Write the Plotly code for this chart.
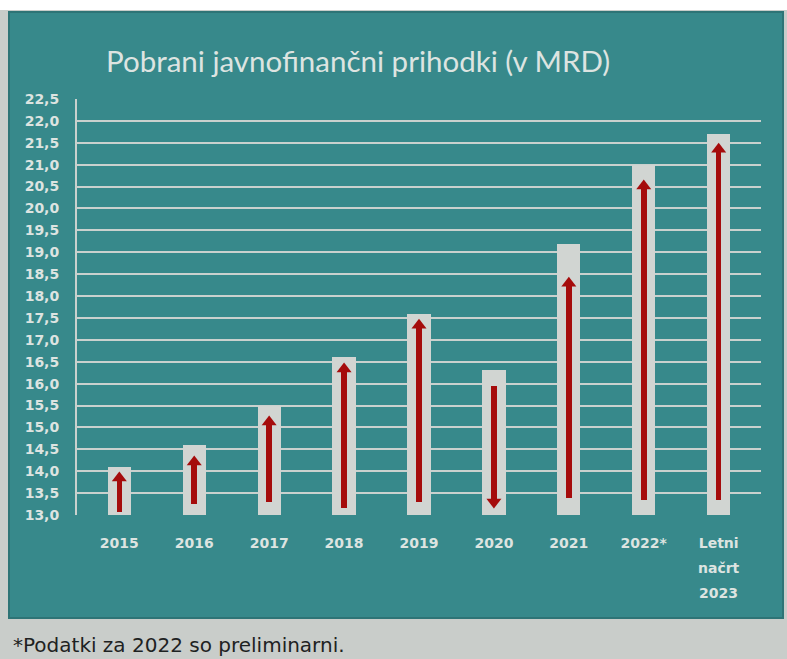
import plotly.graph_objects as go

categories = ["2015", "2016", "2017", "2018", "2019", "2020", "2021", "2022*", "Letni načrt 2023"]
tick_lines = [["2015"], ["2016"], ["2017"], ["2018"], ["2019"], ["2020"], ["2021"], ["2022*"],
              ["Letni", "načrt", "2023"]]
revenue = [14.1, 14.6, 15.5, 16.6, 17.6, 16.3, 19.2, 21.0, 21.7]
arrow_from = [13.07, 13.25, 13.30, 13.16, 13.30, 15.95, 13.39, 13.34, 13.34]
arrow_to = [13.98, 14.35, 15.26, 16.47, 17.47, 13.16, 18.43, 20.65, 21.49]
y_ticks = [13.0 + 0.5 * i for i in range(20)]
y_ticktext = [f"{v:.1f}".replace(".", ",") for v in y_ticks]

W, H = 787, 659
L, R, T, B = 77, 26, 99, 144
pw, ph = W - L - R, H - T - B
def px(x): return (x - L) / pw
def py(y): return (H - B - y) / ph

TEAL = "#37898b"
GRID = "#c9d1ce"
BARGRAY = "#d1d5d2"
RED = "#a50c0c"
TXT = "#dde4e1"

yr = [13.0, 22.5]
unit = ph / (yr[1] - yr[0])
off = 6 / unit
head_y, shaft_end, symbols = [], [], []
for a, b in zip(arrow_from, arrow_to):
    up = b > a
    c = b - off if up else b + off
    head_y.append(c)
    shaft_end.append(c)
    symbols.append("triangle-up" if up else "triangle-down")

fig = go.Figure()
fig.add_trace(go.Bar(x=categories, y=revenue, width=0.31,
                     marker=dict(color=BARGRAY, line=dict(width=0)), hoverinfo="skip"))
fig.add_trace(go.Bar(x=categories, base=[min(a, s) for a, s in zip(arrow_from, shaft_end)],
                     y=[abs(s - a) for a, s in zip(arrow_from, shaft_end)], width=0.075,
                     marker=dict(color=RED, line=dict(width=0)), hoverinfo="skip"))
fig.add_trace(go.Scatter(x=categories, y=head_y, mode="markers",
                         marker=dict(symbol=symbols, size=13, color=RED, line=dict(width=0)),
                         hoverinfo="skip", cliponaxis=False))

shapes = [
    dict(type="rect", xref="paper", yref="paper", x0=px(0), x1=px(W), y0=py(10), y1=py(0),
         fillcolor="white", line=dict(width=0), layer="below"),
    dict(type="rect", xref="paper", yref="paper", x0=px(9), x1=px(783), y0=py(618), y1=py(12),
         fillcolor=TEAL, line=dict(color="#2e7476", width=2), layer="below"),
]

tickfont = dict(family="DejaVu Sans", size=14, color=TXT, weight="bold")
annotations = [
    dict(text="Pobrani javnofinančni prihodki (v MRD)", xref="paper", yref="paper",
         x=px(358), y=py(60), xanchor="center", yanchor="middle", showarrow=False,
         font=dict(family="Lato", size=29.5, color=TXT)),
    dict(text="*Podatki za 2022 so preliminarni.", xref="paper", yref="paper",
         x=px(11), y=py(659), xanchor="left", yanchor="bottom", showarrow=False,
         font=dict(family="DejaVu Sans", size=20, color="#1e2222")),
]
for cat, lines in zip(categories, tick_lines):
    for k, line in enumerate(lines[1:], start=1):
        annotations.append(dict(text=line, x=cat, xref="x", yref="paper", y=py(543 + 25 * k),
                                xanchor="center", yanchor="middle", showarrow=False,
                                font=tickfont))

fig.update_layout(
    width=W, height=H, margin=dict(l=L, r=R, t=T, b=B),
    paper_bgcolor="#c9cdca", plot_bgcolor="rgba(0,0,0,0)",
    barmode="overlay", showlegend=False, bargap=0,
    shapes=shapes, annotations=annotations,
    font=dict(family="DejaVu Sans", size=14, color=TXT),
)
fig.update_yaxes(range=yr, tickvals=y_ticks, ticktext=y_ticktext, showgrid=True,
                 gridcolor=GRID, gridwidth=2, showline=True, linecolor=GRID, linewidth=2,
                 zeroline=False, ticks="outside", ticklen=0, ticklabelstandoff=13,
                 tickfont=tickfont)
fig.update_xaxes(showgrid=False, showline=False, zeroline=False, ticks="outside", ticklen=0,
                 ticklabelstandoff=15, tickmode="array", tickvals=categories,
                 ticktext=[lines[0] for lines in tick_lines], tickfont=tickfont)

fig.write_html("out.html", config={"displayModeBar": False},
               post_script="document.body.style.margin='0';")
